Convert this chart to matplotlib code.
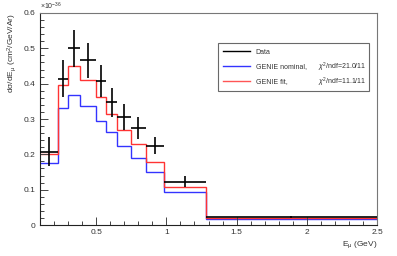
import matplotlib
matplotlib.use("Agg")
import matplotlib.pyplot as plt
import numpy as np
from matplotlib.lines import Line2D

plt.rcParams['font.family'] = ['Liberation Sans', 'DejaVu Sans']
plt.rcParams['mathtext.fontset'] = 'custom'
plt.rcParams['mathtext.rm'] = 'Liberation Sans'
plt.rcParams['mathtext.it'] = 'Liberation Sans:italic'

# bin edges in muon energy (GeV)
edges = [0.1, 0.225, 0.3, 0.385, 0.5, 0.57, 0.65, 0.745, 0.855, 0.98, 1.28, 2.5]
# cross section in units of 1e-36 cm^2/GeV/Ar
data_vals = [0.208, 0.414, 0.500, 0.466, 0.408, 0.347, 0.305, 0.274, 0.224, 0.123, 0.0235]
data_errs = [0.040, 0.052, 0.053, 0.049, 0.045, 0.040, 0.037, 0.031, 0.024, 0.015, 0.003]
genie_fit = [0.200, 0.395, 0.451, 0.411, 0.362, 0.314, 0.268, 0.229, 0.179, 0.107, 0.019]
genie_nom = [0.175, 0.331, 0.368, 0.337, 0.293, 0.262, 0.225, 0.189, 0.149, 0.093, 0.017]
chi2_labels = [r"$\chi^{2}$/ndf=21.0/11", r"$\chi^{2}$/ndf=11.1/11"]

W, H = 397, 256
fig = plt.figure(figsize=(W / 100, H / 100), dpi=100)
ax = fig.add_axes([40 / W, 31 / H, 337 / W, 212 / H])

e = np.array(edges)
centers = 0.5 * (e[1:] + e[:-1])
halfw = 0.5 * (e[1:] - e[:-1])

ax.stairs(genie_nom, edges, baseline=None, color='#3333ff', lw=1.0)
ax.stairs(genie_fit, edges, baseline=None, color='#ff3333', lw=1.0)
ax.errorbar(centers, data_vals, xerr=halfw, yerr=data_errs, fmt='none',
            ecolor='black', elinewidth=1.2, capsize=0, zorder=5)

ax.set_xlim(0.1, 2.5)
ax.set_ylim(0, 0.6)
ax.set_xticks([0.5, 1.0, 1.5, 2.0, 2.5])
ax.set_xticklabels(['0.5', '1', '1.5', '2', '2.5'])
ax.set_xticks(np.arange(0.2, 2.5, 0.1), minor=True)
ax.set_yticks([0, 0.1, 0.2, 0.3, 0.4, 0.5, 0.6])
ax.set_yticklabels(['0', '0.1', '0.2', '0.3', '0.4', '0.5', '0.6'])
ax.set_yticks(np.arange(0.02, 0.6, 0.02), minor=True)
ax.tick_params(which='both', direction='in', top=False, right=False,
               labelsize=6, labelcolor='#333333', color='#444444', width=0.7)
ax.tick_params(which='major', length=6, pad=3)
ax.tick_params(which='minor', length=3)

for s in ['left', 'bottom']:
    ax.spines[s].set_color('#222222')
    ax.spines[s].set_linewidth(0.8)
for s in ['top', 'right']:
    ax.spines[s].set_color('#777777')
    ax.spines[s].set_linewidth(0.8)

ax.set_ylabel("dσ/dE$_\\mathrm{μ}$ (cm$^\\mathrm{2}$/GeV/Ar)", fontsize=6,
              color='#333333', loc='top')
ax.yaxis.set_label_coords(-0.062, 1.0)
ax.set_xlabel("E$_\\mathrm{μ}$ (GeV)", fontsize=6, color='#333333',
              loc='right', labelpad=2)
ax.text(0.0, 1.005, r"$\times$10$^\mathrm{-36}$", transform=ax.transAxes,
        fontsize=5, color='#333333', ha='left', va='bottom')

handles = [Line2D([], [], color='black', lw=1.0),
           Line2D([], [], color='#3333ff', lw=1.0),
           Line2D([], [], color='#ff5555', lw=1.0)]
leg = ax.legend(handles, ['Data', 'GENIE nominal,', 'GENIE fit,'],
                loc='upper left', bbox_to_anchor=(0.527, 0.857, 0.45, 0.0),
                mode='expand', fontsize=5, frameon=True, fancybox=False,
                edgecolor='#444444', handlelength=3.9, handletextpad=0.8,
                labelspacing=1.1, borderpad=0.8, borderaxespad=0)
leg.get_frame().set_linewidth(0.8)
for t in leg.get_texts():
    t.set_color('#333333')
ax.text(0.824, 0.744, chi2_labels[0], transform=ax.transAxes, fontsize=5,
        color='#333333', ha='left', va='center', zorder=10)
ax.text(0.824, 0.673, chi2_labels[1], transform=ax.transAxes, fontsize=5,
        color='#333333', ha='left', va='center', zorder=10)

fig.savefig("out.png", dpi=100)
